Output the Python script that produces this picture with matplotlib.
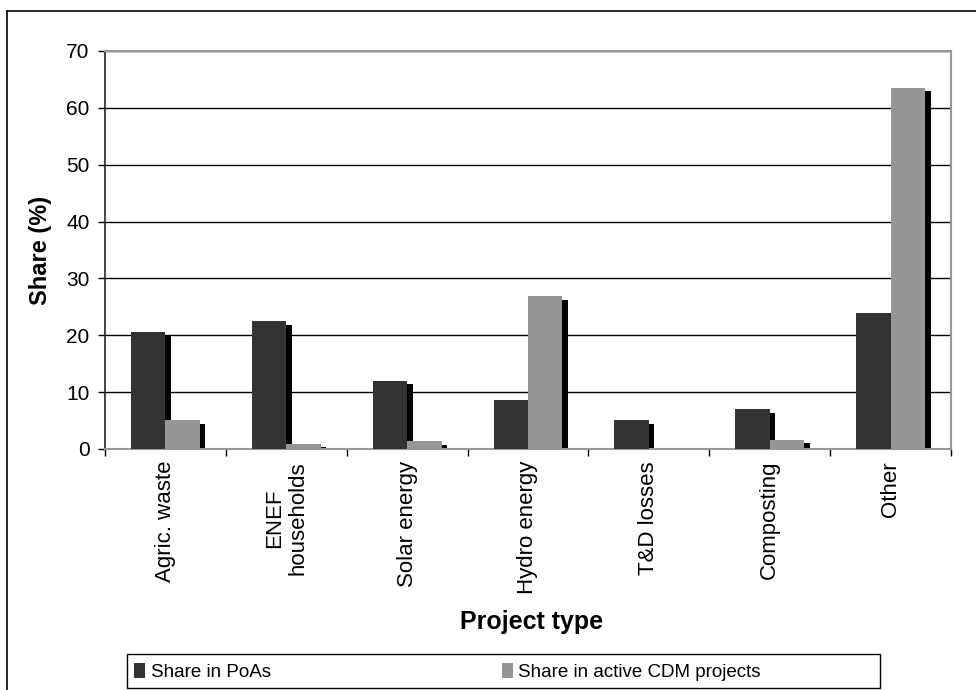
import matplotlib
matplotlib.use("Agg")
import matplotlib.pyplot as plt
import matplotlib.transforms as mtransforms
from matplotlib.lines import Line2D
from matplotlib.patches import Patch, Rectangle
import numpy as np

categories = ["Agric. waste", "ENEF\nhouseholds", "Solar energy", "Hydro energy",
              "T&D losses", "Composting", "Other"]
share_poas = [20.5, 22.5, 12.0, 8.6, 5.1, 7.0, 24.0]
share_cdm = [5.1, 0.9, 1.4, 26.9, 0.0, 1.6, 63.5]
y_ticks = [0, 10, 20, 30, 40, 50, 60, 70]

plt.rcParams['font.family'] = ['Liberation Sans', 'DejaVu Sans']

fig = plt.figure(figsize=(9.76, 6.9), dpi=100)
ax = fig.add_axes([105/976, 1-449/690, 846/976, 398/690])

x = np.arange(len(categories))
w = 0.285
c_poa = '#333333'
c_cdm = '#969696'

shadow = mtransforms.offset_copy(ax.transData, fig=fig, x=5.5, y=-3.5, units='dots')
for xs, vals in [(x - w/2, share_poas), (x + w/2, share_cdm)]:
    ax.bar(xs, vals, width=w, color='black', transform=shadow, zorder=2, linewidth=0)
ax.bar(x - w/2, share_poas, width=w, color=c_poa, zorder=3, linewidth=0)
ax.bar(x + w/2, share_cdm, width=w, color=c_cdm, zorder=3, linewidth=0)

ax.set_xlim(-0.5, len(categories) - 0.5)
ax.set_ylim(0, 70)
ax.set_yticks(y_ticks)
ax.yaxis.grid(True, color='black', linewidth=1.0)
ax.set_axisbelow(True)

ax.set_xticks(np.arange(len(categories) + 1) - 0.5)
ax.set_xticklabels([])
ax.tick_params(axis='x', length=5, width=1, color='black', direction='out')
ax.tick_params(axis='y', length=5, width=1, color='black', direction='out', labelsize=15, pad=6)
for i, c in enumerate(categories):
    ax.text(i, -0.03, c, transform=ax.get_xaxis_transform(), rotation=90,
            ha='center', va='top', fontsize=16, multialignment='center',
            linespacing=1.1)

for s in ['top', 'right']:
    ax.spines[s].set_color('#999999')
    ax.spines[s].set_linewidth(1.5)
ax.spines['bottom'].set_color('#999999')
ax.spines['bottom'].set_linewidth(1.5)
ax.spines['left'].set_color('#222222')
ax.spines['left'].set_linewidth(1.2)

ax.set_ylabel("Share (%)", fontsize=17, fontweight='bold', labelpad=10)
fig.text(532/976, 1-622/690, "Project type", ha='center', va='center',
         fontsize=18, fontweight='bold')

# outer frame (left and top)
fig.add_artist(Line2D([7/976, 7/976], [0, 1-11/690], transform=fig.transFigure,
                      color='black', linewidth=1.2))
fig.add_artist(Line2D([7/976, 1], [1-11/690, 1-11/690], transform=fig.transFigure,
                      color='black', linewidth=1.2))

# legend box
fig.add_artist(Rectangle((127/976, 2/690), 753/976, 34/690, transform=fig.transFigure,
                         facecolor='white', edgecolor='black', linewidth=1.0, zorder=4))
handles = [Patch(facecolor=c_poa, edgecolor='none'), Patch(facecolor=c_cdm, edgecolor='none')]
leg = fig.legend(handles, ["Share in PoAs", "Share in active CDM projects"],
                 loc='center left', bbox_to_anchor=(134/976, 18/690),
                 ncol=2, frameon=False,
                 handlelength=0.6, handleheight=0.9, handletextpad=0.3,
                 columnspacing=12.3, borderaxespad=0, borderpad=0.0,
                 prop={'size': 13.5})
leg.set_zorder(5)

fig.savefig("out.png", dpi=100)
